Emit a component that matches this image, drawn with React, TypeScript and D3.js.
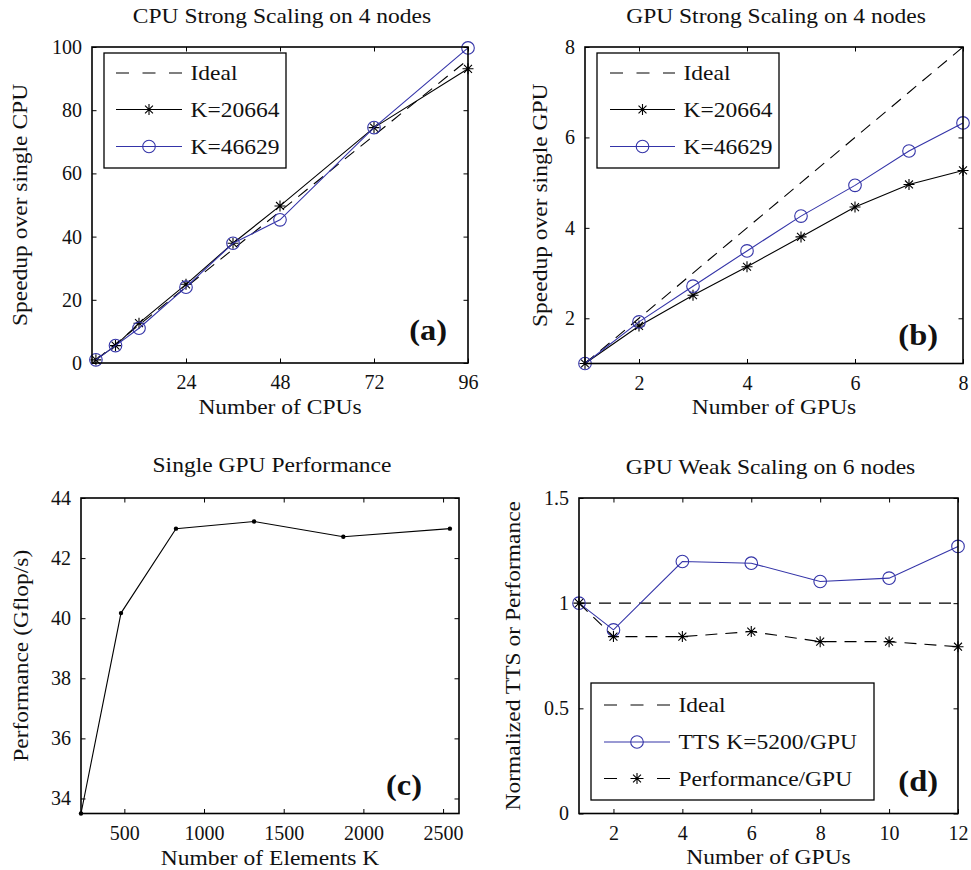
import React, { useEffect, useRef } from 'react';
import * as d3 from 'd3';

// (a) CPU strong scaling
const cpuCounts = [1, 6, 12, 24, 36, 48, 72, 96];
const cpuK20664 = [1, 5.5, 12.6, 24.9, 37.9, 49.7, 74.5, 93.1];
const cpuK46629 = [1, 5.5, 11, 24, 37.9, 45.3, 74.5, 99.7];
const cpuXTicks = [24, 48, 72, 96];
const cpuYTicks = [0, 20, 40, 60, 80, 100];

// (b) GPU strong scaling
const gpuCounts = [1, 2, 3, 4, 5, 6, 7, 8];
const gpuK20664 = [1, 1.83, 2.51, 3.14, 3.8, 4.46, 4.96, 5.27];
const gpuK46629 = [1, 1.92, 2.71, 3.49, 4.26, 4.94, 5.7, 6.32];
const gpuXTicks = [2, 4, 6, 8];
const gpuYTicks = [2, 4, 6, 8];

// (c) single GPU performance
const elemCounts = [228, 479, 824, 1314, 1874, 2543];
const gflops = [33.5, 40.17, 42.98, 43.22, 42.71, 42.98];
const elemXTicks = [500, 1000, 1500, 2000, 2500];
const elemYTicks = [34, 36, 38, 40, 42, 44];

// (d) GPU weak scaling
const weakGpus = [1, 2, 4, 6, 8, 10, 12];
const weakIdeal = [1, 1, 1, 1, 1, 1, 1];
const weakTTS = [1, 0.873, 1.198, 1.19, 1.103, 1.119, 1.27];
const weakPerf = [1, 0.841, 0.841, 0.865, 0.817, 0.817, 0.793];
const weakXTicks = [2, 4, 6, 8, 10, 12];
const weakYTicks = [0, 0.5, 1, 1.5];

const FONT = '"Liberation Serif", "Times New Roman", serif';
const BLUE = '#3434a8';
const STRETCH = 1.12; // widen Liberation Serif towards the LaTeX look

type Series = {
  name: string;
  xs: number[];
  ys: number[];
  color: string;
  dashed?: boolean;
  marker?: 'star' | 'circle' | 'dot';
};

type Panel = {
  box: [number, number, number, number]; // left, top, right, bottom
  xDomain: [number, number];
  yDomain: [number, number];
  xTicks: number[];
  yTicks: number[];
  title: string;
  titleY: number;
  xLabel: string;
  xLabelY: number;
  yLabel: string;
  yLabelX: number;
  tag: string;
  tagPos: [number, number];
  series: Series[];
  legend?: { box: [number, number, number, number]; rows: number[]; line: [number, number] };
};

const panels: Panel[] = [
  {
    box: [92, 47, 468, 363],
    xDomain: [0, 96],
    yDomain: [0, 100],
    xTicks: cpuXTicks,
    yTicks: cpuYTicks,
    title: 'CPU Strong Scaling on 4 nodes',
    titleY: 23,
    xLabel: 'Number of CPUs',
    xLabelY: 414,
    yLabel: 'Speedup over single CPU',
    yLabelX: 27,
    tag: '(a)',
    tagPos: [447, 340],
    series: [
      { name: 'Ideal', xs: [1, 96], ys: [1, 96], color: '#000', dashed: true },
      { name: 'K=20664', xs: cpuCounts, ys: cpuK20664, color: '#000', marker: 'star' },
      { name: 'K=46629', xs: cpuCounts, ys: cpuK46629, color: BLUE, marker: 'circle' },
    ],
    legend: { box: [104, 53, 286, 168], rows: [73, 109.5, 146.5], line: [116, 182] },
  },
  {
    box: [585, 47, 963, 363.5],
    xDomain: [1, 8],
    yDomain: [1, 8],
    xTicks: gpuXTicks,
    yTicks: gpuYTicks,
    title: 'GPU Strong Scaling on 4 nodes',
    titleY: 23,
    xLabel: 'Number of GPUs',
    xLabelY: 414,
    yLabel: 'Speedup over single GPU',
    yLabelX: 547,
    tag: '(b)',
    tagPos: [938, 345],
    series: [
      { name: 'Ideal', xs: gpuCounts, ys: gpuCounts, color: '#000', dashed: true },
      { name: 'K=20664', xs: gpuCounts, ys: gpuK20664, color: '#000', marker: 'star' },
      { name: 'K=46629', xs: gpuCounts, ys: gpuK46629, color: BLUE, marker: 'circle' },
    ],
    legend: { box: [597, 53, 779, 168], rows: [73, 109.5, 146.5], line: [610, 675] },
  },
  {
    box: [81, 498, 459, 813.5],
    xDomain: [228, 2600],
    yDomain: [33.5, 44],
    xTicks: elemXTicks,
    yTicks: elemYTicks,
    title: 'Single GPU Performance',
    titleY: 472,
    xLabel: 'Number of Elements K',
    xLabelY: 865,
    yLabel: 'Performance (Gflop/s)',
    yLabelX: 28,
    tag: '(c)',
    tagPos: [422, 795],
    series: [{ name: 'perf', xs: elemCounts, ys: gflops, color: '#000', marker: 'dot' }],
  },
  {
    box: [579, 498, 958, 813.5],
    xDomain: [1, 12],
    yDomain: [0, 1.5],
    xTicks: weakXTicks,
    yTicks: weakYTicks,
    title: 'GPU Weak Scaling on 6 nodes',
    titleY: 474,
    xLabel: 'Number of GPUs',
    xLabelY: 864,
    yLabel: 'Normalized TTS or Performance',
    yLabelX: 520,
    tag: '(d)',
    tagPos: [938, 791],
    series: [
      { name: 'Ideal', xs: weakGpus, ys: weakIdeal, color: '#000', dashed: true },
      { name: 'TTS K=5200/GPU', xs: weakGpus, ys: weakTTS, color: BLUE, marker: 'circle' },
      { name: 'Performance/GPU', xs: weakGpus, ys: weakPerf, color: '#000', dashed: true, marker: 'star' },
    ],
    legend: { box: [591, 683, 874, 800], rows: [705, 742, 778.5], line: [604, 670] },
  },
];

function drawMarker(g: any, kind: string | undefined, cx: number, cy: number, color: string) {
  if (kind === 'circle') {
    g.append('circle').attr('cx', cx).attr('cy', cy).attr('r', 6.3)
      .attr('fill', 'none').attr('stroke', color).attr('stroke-width', 1.1);
  } else if (kind === 'star') {
    const r = 5.5, d = r * 0.72;
    const path = `M${cx - r},${cy}H${cx + r}M${cx},${cy - r}V${cy + r}` +
      `M${cx - d},${cy - d}L${cx + d},${cy + d}M${cx - d},${cy + d}L${cx + d},${cy - d}`;
    g.append('path').attr('d', path).attr('stroke', color).attr('stroke-width', 1.1);
  } else if (kind === 'dot') {
    g.append('circle').attr('cx', cx).attr('cy', cy).attr('r', 2.2).attr('fill', color);
  }
}

// stretched text placed with a transform so the scale does not move its anchor
function label(g: any, x: number, y: number, txt: string, size: number,
  anchor = 'middle', rotate = 0, bold = false) {
  return g.append('text')
    .attr('transform', `translate(${x},${y}) rotate(${rotate}) scale(${STRETCH},1)`)
    .attr('text-anchor', anchor)
    .attr('font-size', size)
    .attr('font-weight', bold ? 'bold' : null)
    .attr('fill', '#111')
    .text(txt);
}

const App = () => {
  const ref = useRef<SVGSVGElement>(null);

  useEffect(() => {
    const svg = d3.select(ref.current);
    svg.selectAll('*').remove();
    svg.attr('font-family', FONT);

    panels.forEach(p => {
      const [l, t, r, b] = p.box;
      const x = d3.scaleLinear().domain(p.xDomain).range([l, r]);
      const y = d3.scaleLinear().domain(p.yDomain).range([b, t]);
      const g = svg.append('g');
      const tl = 4.5;

      const styleAxis = (sel: any) => {
        sel.attr('font-family', FONT).attr('font-size', 20);
        sel.select('.domain').remove();
        sel.selectAll('line').attr('stroke', '#000').attr('stroke-width', 1);
        sel.selectAll('text').attr('fill', '#111');
      };

      g.append('g').attr('transform', `translate(0,${b})`)
        .call(d3.axisBottom(x).tickValues(p.xTicks).tickSizeInner(-tl).tickSizeOuter(0).tickPadding(12)
          .tickFormat(d3.format('~g') as any))
        .call(styleAxis);
      g.append('g').attr('transform', `translate(0,${t})`)
        .call(d3.axisTop(x).tickValues(p.xTicks).tickSizeInner(-tl).tickSizeOuter(0).tickFormat(() => ''))
        .call(styleAxis);
      g.append('g').attr('transform', `translate(${l},0)`)
        .call(d3.axisLeft(y).tickValues(p.yTicks).tickSizeInner(-tl).tickSizeOuter(0).tickPadding(10)
          .tickFormat(d3.format('~g') as any))
        .call(styleAxis);
      g.append('g').attr('transform', `translate(${r},0)`)
        .call(d3.axisRight(y).tickValues(p.yTicks).tickSizeInner(-tl).tickSizeOuter(0).tickFormat(() => ''))
        .call(styleAxis);

      const line = d3.line<[number, number]>().x(d => x(d[0])).y(d => y(d[1]));
      p.series.forEach(s => {
        const pts = s.xs.map((v, i) => [v, s.ys[i]] as [number, number]);
        g.append('path').attr('d', line(pts)).attr('fill', 'none')
          .attr('stroke', s.color).attr('stroke-width', 1.1)
          .attr('stroke-dasharray', s.dashed ? '12,8' : null);
        pts.forEach(pt => drawMarker(g, s.marker, x(pt[0]), y(pt[1]), s.color));
      });

      g.append('rect').attr('x', l).attr('y', t).attr('width', r - l).attr('height', b - t)
        .attr('fill', 'none').attr('stroke', '#000').attr('stroke-width', 1.6);

      label(g, (l + r) / 2 + 2, p.titleY, p.title, 21);
      label(g, (l + r) / 2, p.xLabelY, p.xLabel, 21);
      label(g, p.yLabelX, (t + b) / 2, p.yLabel, 21, 'middle', -90);
      label(g, p.tagPos[0], p.tagPos[1], p.tag, 29, 'end', 0, true);

      if (p.legend) {
        const lg = p.legend;
        g.append('rect').attr('x', lg.box[0]).attr('y', lg.box[1])
          .attr('width', lg.box[2] - lg.box[0]).attr('height', lg.box[3] - lg.box[1])
          .attr('fill', '#fff').attr('stroke', '#000').attr('stroke-width', 1.3);
        p.series.forEach((s, i) => {
          const ry = lg.rows[i];
          const [x0, x1] = lg.line;
          g.append('line').attr('x1', x0).attr('x2', x1).attr('y1', ry).attr('y2', ry)
            .attr('stroke', s.color).attr('stroke-width', 1.1)
            .attr('stroke-dasharray', s.dashed ? '13,13.5' : null);
          drawMarker(g, s.marker, (x0 + x1) / 2, ry, s.color);
          label(g, x1 + 8.5, ry + 7, s.name, 21, 'start');
        });
      }
    });
  }, []);

  return (
    <svg ref={ref} width={971} height={870}
      style={{ position: 'absolute', left: 0, top: 0, background: '#fff' }} />
  );
};

export default App;
